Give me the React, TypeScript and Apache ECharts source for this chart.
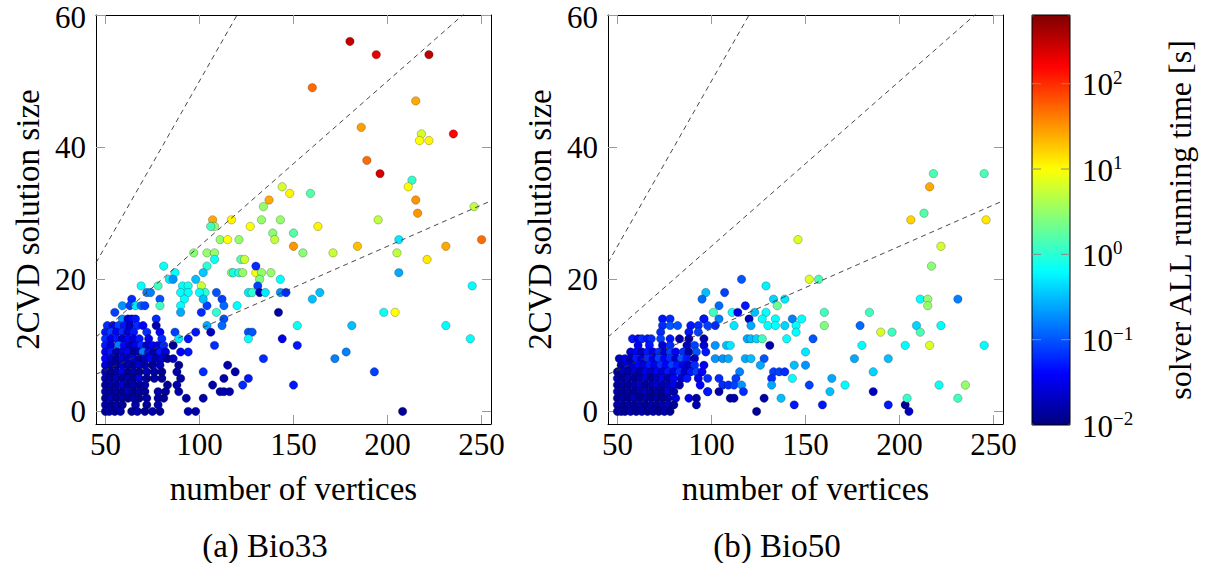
import React, { useEffect, useRef } from "react";
import * as echarts from "echarts";

// ---------- data ----------
const xTicks = [50, 100, 150, 200, 250];
const yTicks = [0, 20, 40, 60];
const xRange = [45, 255];
const yRange = [-1.9, 60];
const colorExponents = [-2, -1, 0, 1, 2]; // colorbar ticks, 10^e seconds
const colorRange = [-2, 2.805]; // log10 of solver time [s]
const ratioLines = [2, 4, 8]; // dashed guides: size = vertices / k
const panelCaptions = ["(a) Bio33", "(b) Bio50"];
const xName = "number of vertices";
const yName = "2CVD solution size";
const colorName = "solver ALL running time [s]";

// [vertices, solution size, log10(time in s)]
const bio33: number[][] = [
  [180,56,2.5],[194,54,2.3],[222,54,2.5],[160,49,1.7],[215,47,1.4],[186,43,1.45],[218,42,0.8],[217,41,1.0],[222,41,1.05],[235,42,2.2],
  [189,38,1.7],[196,36,2.4],[213,35,0.05],[211,34,1.0],[215,32,1.5],[216,30,1.5],[246,31,0.7],[144,34,0.8],[148,33,1.05],[159,33,0.2],
  [137,32,1.4],[134,31,0.5],[195,29,0.7],[163,28,1.05],[150,27,0.2],[150,25,1.5],[155,24,0.45],[171,24,0.75],[184,25,1.3],[206,26,-0.3],
  [205,24,0.7],[221,23,1.1],[231,25,1.4],[250,26,1.7],[206,21,-0.6],[245,19,-0.2],[164,18,-0.5],[160,17,-0.5],[198,15,-0.15],[204,15,1.0],
  [152,13,-0.15],[181,13,-0.5],[231,13,-0.2],[244,11,-0.2],[152,10,-1.3],[172,8,-0.8],[178,9,-0.8],[193,6,-1.1],[150,4,-1.3],[208,0,-1.9],
  [107,29,1.4],[108,28,0.5],[106,28,0.1],[117,29,1.05],[127,28,1.0],[133,29,0.5],[143,29,0.5],[139,27,0.45],[140,26,0.7],[111,26,0.5],
  [115,26,1.0],[121,26,0.5],[97,24,0.45],[104,24,0.5],[108,24,0.5],[108,23,-0.15],[104,22,0.0],[102,21,-0.45],[98,20,-0.5],[122,23,0.2],
  [124,23,0.75],[117,21,0.5],[118,21,-0.1],[121,21,0.0],[123,21,0.5],[130,21,0.95],[133,21,0.5],[138,21,0.5],[130,22,-1.2],[132,20,0.4],
  [143,20,-0.2],[131,19,-1.1],[126,18,-0.3],[128,18,0.0],[132,18,-1.8],[135,18,-0.3],[143,18,-0.7],[146,18,-1.2],[120,16,-0.2],[142,15,-1.8],
  [101,19,0.75],[103,18,0.0],[109,18,-1.0],[112,17,-1.1],[113,16,-0.9],[101,15,-1.2],[104,16,-1.1],[109,15,0.0],[113,14,-1.0],[112,13,-0.9],
  [104,13,-0.6],[98,12,-1.3],[106,12,-1.7],[126,12,-1.0],[128,12,-1.0],[126,11,-0.2],[144,11,-1.5],[134,8,-1.2],[108,10,-1.2],[94,9,-1.3],
  [102,6,-1.2],[123,4,-1.2],[126,5,-1.3],[113,5,-1.8],[115,7,-1.8],[119,6,-1.8],[111,3,-1.8],[113,3,-1.8],[116,3,-1.8],[107,4,-1.8],
  [102,2,-1.8],[98,0,-1.8],[94,0,-1.8],[93,2,-1.8],[89,3,-1.8],
  [81,22,-0.15],[87,21,-0.2],[84,20,-0.3],[86,20,-0.7],[69,19,-0.2],[72,18,-0.8],[74,18,-0.8],[78,19,0.1],[79,17,-1.0],[79,16,0.1],
  [91,19,-0.2],[94,19,-0.1],[90,18,-0.2],[94,18,-0.2],[92,17,-0.2],[90,16,-0.2],[90,15,-0.6],[100,18,-0.2],[102,17,-0.5],[64,17,-1.2],
  [59,16,-0.7],[63,16,-1.1],[66,16,-0.3],[69,16,-0.9],[71,16,-1.1],[55,15,-1.1],
  [59,14,-0.7],[62,14,-1.6],[64,14,-1.4],[66,14,-1.3],[77,14,-1.2],
  [51,13,-1.2],[54,13,-1.4],[57,13,-1.1],[60,13,-1.3],[63,13,-1.7],[67,13,-1.2],[70,13,-1.4],[77,13,-1.8],
  [50,12,-1.3],[53,12,-1.1],[56,12,-1.4],[59,12,-1.2],[62,12,-1.6],[65,12,-1.3],[72,12,-1.2],[79,12,-1.4],[87,12,-1.1],
  [50,11,-1.2],[53,11,-1.5],[56,11,-1.3],[59,11,-1.7],[62,11,-1.4],[65,11,-1.6],[68,11,-1.3],[73,11,-1.5],[80,11,-1.2],[89,11,-0.3],[94,11,-1.3],
  [50,10,-1.3],[53,10,-1.6],[57,10,-0.8],[60,10,-1.4],[63,10,-1.8],[66,10,-1.5],[69,10,-1.2],[72,10,-1.7],[75,10,-1.4],[78,10,-1.6],[81,10,-1.2],[86,10,-1.9],
  [50,9,-1.5],[53,9,-1.3],[56,9,-1.8],[59,9,-1.6],[62,9,-1.4],[65,9,-1.9],[68,9,-1.7],[70,9,-0.8],[73,9,-1.5],[76,9,-1.8],[79,9,-1.3],[82,9,-1.6],[90,9,-1.4],
  [50,8,-1.4],[53,8,-1.7],[56,8,-1.9],[59,8,-1.6],[62,8,-1.8],[65,8,-1.5],[68,8,-1.9],[71,8,-1.7],[74,8,-1.4],[77,8,-1.8],[80,8,-1.6],[83,8,-1.9],[86,8,-1.7],
  [50,7,-1.6],[53,7,-1.8],[56,7,-1.9],[59,7,-1.7],[62,7,-1.8],[65,7,-1.9],[68,7,-1.6],[71,7,-1.8],[75,7,-1.9],[79,7,-1.7],[89,7,-1.9],
  [50,6,-1.7],[53,6,-1.9],[56,6,-1.8],[59,6,-1.5],[62,6,-1.9],[65,6,-1.8],[68,6,-1.9],[72,6,-1.7],[76,6,-1.8],[80,6,-1.9],[88,6,-1.8],
  [50,5,-1.8],[53,5,-1.9],[56,5,-1.7],[59,5,-1.9],[62,5,-1.8],[65,5,-1.9],[68,5,-1.6],[72,5,-1.9],[76,5,-1.8],[80,5,-1.9],[90,5,-1.8],
  [50,4,-1.9],[53,4,-1.8],[56,4,-1.9],[59,4,-1.6],[62,4,-1.9],[65,4,-1.8],[68,4,-1.9],[71,4,-1.8],[83,4,-1.9],[88,4,-1.8],
  [50,3,-1.8],[53,3,-1.9],[56,3,-1.8],[59,3,-1.9],[62,3,-1.7],[65,3,-1.9],[68,3,-1.8],[71,3,-1.9],[78,3,-1.8],[82,3,-1.9],
  [50,2,-1.9],[53,2,-1.7],[56,2,-1.9],[59,2,-1.8],[62,2,-1.9],[65,2,-1.8],[68,2,-1.9],[72,2,-1.8],[78,2,-1.8],[81,2,-1.9],
  [50,1,-1.8],[53,1,-1.9],[56,1,-1.8],[59,1,-1.9],[66,1,-1.8],[72,1,-1.9],[78,1,-1.8],
  [50,0,-1.9],[52,0,-1.8],[55,0,-1.9],[58,0,-1.8],[64,0,-1.9],[67,0,-1.8],[71,0,-1.9],[75,0,-1.8],[79,0,-1.9],
];

const bio50: number[][] = [
  [218,36,0.15],[245,36,0.15],[216,34,1.4],[213,30,0.2],[206,29,1.2],[246,29,1.1],[222,25,0.8],[217,22,0.45],[146,26,0.85],[152,20,0.85],
  [157,20,0.15],[211,17,-0.2],[215,17,0.5],[215,16,0.5],[231,17,-0.8],[160,15,0.1],[184,15,0.1],[160,13,0.4],[179,13,-0.9],[209,13,-0.4],
  [211,12,0.15],[222,13,-0.2],[190,12,0.8],[196,12,0.1],[180,10,-0.2],[203,10,-0.2],[216,10,0.85],[245,10,-0.2],[176,8,-0.6],[194,8,-0.5],
  [186,6,-0.4],[154,11,-1.0],[150,9,-0.3],[150,7,-0.7],[148,14,-0.2],[152,4,-1.1],[164,5,-0.6],[163,3,-0.5],[171,4,-0.2],[186,3,-1.7],
  [159,1,-1.3],[194,1,-1.3],[203,1,-1.9],[205,0,-1.7],[204,2,0.05],[221,4,-0.15],[235,4,0.5],[231,2,0.1],
  [116,20,-1.0],[129,19,-0.25],[97,18,-0.5],[107,18,-1.1],[95,17,-0.9],[133,17,-0.4],[139,17,-0.3],[104,16,-0.9],[118,16,-1.3],[135,16,0.3],
  [101,15,0.1],[111,15,-0.2],[114,15,-1.5],[123,15,-0.5],[129,15,-0.2],[120,14,-1.7],[96,14,-1.3],[104,14,-0.8],[127,14,-0.2],[134,14,-0.2],
  [143,14,-0.8],[102,13,-1.2],[112,13,-0.3],[121,13,-0.6],[130,13,-0.2],[134,13,-0.2],[139,13,-0.4],[145,13,-0.2],[145,12,-0.2],[140,11,-0.2],
  [96,11,-1.8],[96,10,-1.6],[119,11,-0.6],[121,11,-0.5],[124,11,-0.4],[127,11,0.1],[102,10,-0.7],[108,10,-0.5],[110,10,-0.3],[131,10,-1.8],
  [102,8,-0.7],[106,8,-0.7],[109,8,-0.6],[118,8,-0.6],[121,8,-0.5],[128,8,-1.0],[126,7,-0.6],[144,7,-0.5],[96,7,-1.5],[133,6,-1.1],
  [136,6,-1.1],[139,6,-1.2],[115,6,-0.8],[104,5,-1.2],[113,5,-1.1],[143,5,-0.2],[132,5,-1.2],[106,4,-1.2],[109,4,-1.2],[112,4,-1.1],
  [116,4,-0.7],[132,4,-0.6],[98,3,-1.3],[104,3,-1.8],[117,3,-1.2],[110,2,-1.8],[112,2,-1.8],[128,2,-1.8],[137,2,-0.5],[124,0,-1.9],[144,1,-1.3],
  [74,14,-1.3],[78,14,-1.2],[96,14,-1.3],
  [74,13,-1.2],[78,13,-1.0],[82,13,-1.0],[89,13,-1.3],[93,13,-1.2],[98,13,-1.1],
  [73,12,-1.2],[88,12,-1.3],[93,12,-1.1],
  [58,11,-1.3],[61,11,-1.4],[63,11,-1.2],[66,11,-1.3],[68,11,-1.2],[73,11,-1.1],[78,11,-1.3],[83,11,-1.8],[88,11,-1.8],
  [61,10,-1.5],[67,10,-1.3],[74,10,-1.6],[78,10,-1.2],[87,10,-1.7],[91,10,-1.1],
  [57,9,-1.6],[60,9,-1.4],[63,9,-1.7],[66,9,-1.3],[69,9,-1.5],[72,9,-1.2],[75,9,-1.6],[78,9,-1.1],[81,9,-1.4],[85,9,-1.2],[88,9,-1.8],[92,9,-1.0],[97,9,-1.3],
  [51,8,-1.7],[54,8,-1.5],[57,8,-1.8],[60,8,-1.3],[63,8,-1.6],[66,8,-1.2],[69,8,-1.5],[72,8,-1.1],[75,8,-1.4],[78,8,-1.2],[81,8,-1.6],[84,8,-1.0],[87,8,-1.3],[91,8,-1.7],
  [52,7,-1.8],[55,7,-1.6],[58,7,-1.7],[61,7,-1.4],[64,7,-1.6],[67,7,-1.3],[70,7,-1.5],[73,7,-1.2],[76,7,-1.4],[79,7,-1.1],[82,7,-1.3],[85,7,-1.5],[88,7,-1.7],[91,7,-1.2],
  [50,6,-1.9],[53,6,-1.7],[56,6,-1.8],[59,6,-1.6],[62,6,-1.8],[65,6,-1.5],[68,6,-1.7],[71,6,-1.4],[74,6,-1.6],[77,6,-1.3],[80,6,-1.5],[83,6,-1.2],[86,6,-1.6],[89,6,-1.3],[92,6,-1.1],[95,6,-1.4],
  [50,5,-1.8],[53,5,-1.9],[56,5,-1.7],[59,5,-1.9],[62,5,-1.8],[65,5,-1.6],[68,5,-1.9],[71,5,-1.7],[74,5,-1.5],[77,5,-1.8],[80,5,-1.4],[84,5,-1.6],[87,5,-1.3],[93,5,-1.5],[98,5,-1.2],
  [50,4,-1.9],[53,4,-1.8],[56,4,-1.9],[59,4,-1.8],[62,4,-1.7],[65,4,-1.9],[68,4,-1.8],[71,4,-1.6],[74,4,-1.8],[77,4,-1.7],[80,4,-1.5],[83,4,-1.8],[94,4,-1.4],
  [50,3,-1.8],[53,3,-1.9],[56,3,-1.8],[59,3,-1.9],[62,3,-1.8],[65,3,-1.7],[68,3,-1.9],[71,3,-1.8],[74,3,-1.9],[77,3,-1.6],[80,3,-1.8],[98,3,-1.3],
  [50,2,-1.9],[53,2,-1.8],[56,2,-1.9],[59,2,-1.7],[62,2,-1.9],[65,2,-1.8],[68,2,-1.9],[71,2,-1.8],[74,2,-1.9],[77,2,-1.8],[81,2,-1.6],[88,2,-1.5],[92,2,-1.8],
  [50,1,-1.8],[53,1,-1.9],[56,1,-1.8],[59,1,-1.9],[62,1,-1.8],[65,1,-1.9],[68,1,-1.8],[71,1,-1.9],[74,1,-1.8],[77,1,-1.7],[80,1,-1.9],[92,1,-1.8],
  [50,0,-1.9],[52,0,-1.8],[54,0,-1.9],[57,0,-1.8],[60,0,-1.9],[63,0,-1.8],[66,0,-1.9],[69,0,-1.8],[72,0,-1.9],[75,0,-1.8],[78,0,-1.9],
];

const panels = [bio33, bio50];

// ---------- style ----------
const FONT = "Liberation Serif";
const JET = ["#00007f", "#0000ff", "#007fff", "#00ffff", "#7fff7f", "#ffff00", "#ff7f00", "#ff0000", "#7f0000"];
const GRID_LEFTS = [96, 608];
const GRID_TOP = 15;
const GRID_W = 395;
const GRID_H = 409;
const CB = { x: 1032, y: 15, w: 38, h: 410 };
const CAPTION_X = [265, 777];

export default function App() {
  const ref = useRef<HTMLDivElement>(null);

  useEffect(() => {
    if (!ref.current) return;
    const chart = echarts.init(ref.current, null, { renderer: "svg" });

    const axisLine = { show: true, onZero: false, lineStyle: { color: "#000", width: 1 } };
    const tickStyle = { show: true, inside: true, length: 9, lineStyle: { color: "#9a9a9a", width: 1 } };
    const labelFont = { fontFamily: FONT, fontSize: 31, color: "#000" };
    const nameFont = { fontFamily: FONT, fontSize: 33, color: "#000" };
    const topTick = yTicks[yTicks.length - 1];

    const grid: any[] = [];
    const xAxis: any[] = [];
    const yAxis: any[] = [];
    const series: any[] = [];

    GRID_LEFTS.forEach((left, i) => {
      grid.push({ left, top: GRID_TOP, width: GRID_W, height: GRID_H, containLabel: false, outerBoundsMode: "none" });
      xAxis.push({
        type: "value", gridIndex: i, position: "bottom", min: xRange[0], max: xRange[1],
        axisLine, axisTick: { ...tickStyle, customValues: xTicks },
        axisLabel: { ...labelFont, customValues: xTicks, margin: 8, lineHeight: 24 },
        splitLine: { show: false },
        name: xName, nameLocation: "middle", nameGap: 48, nameTextStyle: { ...nameFont },
      });
      xAxis.push({
        type: "value", gridIndex: i, position: "top", min: xRange[0], max: xRange[1],
        axisLine, axisTick: { ...tickStyle, customValues: xTicks },
        axisLabel: { show: false }, splitLine: { show: false },
      });
      yAxis.push({
        type: "value", gridIndex: i, position: "left", min: yRange[0], max: yRange[1],
        axisLine, axisTick: { ...tickStyle, customValues: yTicks },
        axisLabel: {
          ...labelFont, customValues: yTicks, margin: 10, lineHeight: 22,
          formatter: (v: number) => (v === topTick ? `{t|${v}}` : `${v}`),
          rich: { t: { fontFamily: FONT, fontSize: 31, color: "#000", lineHeight: 22, padding: [5, 0, 0, 0] } },
        },
        splitLine: { show: false },
        name: yName, nameLocation: "middle", nameGap: 52, nameRotate: 90, nameTextStyle: { ...nameFont },
      });
      yAxis.push({
        type: "value", gridIndex: i, position: "right", min: yRange[0], max: yRange[1],
        axisLine, axisTick: { ...tickStyle, customValues: yTicks },
        axisLabel: { show: false }, splitLine: { show: false },
      });
    });

    panels.forEach((pts, i) => {
      series.push({
        type: "scatter", xAxisIndex: 2 * i, yAxisIndex: 2 * i,
        data: pts.map((p) => [p[0], p[1], p[2]]),
        symbol: "circle", symbolSize: 8.4,
        itemStyle: { borderColor: "rgba(0,0,0,0.3)", borderWidth: 0.8, opacity: 1 },
        z: 2, silent: true,
      });
    });

    panels.forEach((_, i) => {
      ratioLines.forEach((k) => {
        series.push({
          type: "line", xAxisIndex: 2 * i, yAxisIndex: 2 * i,
          data: [[xRange[0], xRange[0] / k], [xRange[1], xRange[1] / k]],
          symbol: "none", clip: true, silent: true, z: 5,
          lineStyle: { color: "#333", width: 0.9, type: [5, 4] },
        });
      });
    });

    const span = colorRange[1] - colorRange[0];
    const graphic: any[] = [
      { type: "rect", shape: { x: CB.x, y: CB.y, width: CB.w, height: CB.h }, style: { fill: "none", stroke: "#000", lineWidth: 1 }, z: 100 },
    ];
    colorExponents.forEach((e) => {
      const y = CB.y + CB.h * (1 - (e - colorRange[0]) / span);
      if (e !== colorExponents[0]) {
        graphic.push({ type: "line", shape: { x1: CB.x, y1: y, x2: CB.x + 9, y2: y }, style: { stroke: "#8a8a8a", lineWidth: 1 }, z: 100 });
        graphic.push({ type: "line", shape: { x1: CB.x + CB.w - 9, y1: y, x2: CB.x + CB.w, y2: y }, style: { stroke: "#8a8a8a", lineWidth: 1 }, z: 100 });
      }
      const exp = e < 0 ? "\u2212" + Math.abs(e) : String(e);
      graphic.push({
        type: "text", x: 1082, y: y + 1, z: 100,
        style: {
          text: `{b|10}{s|${exp}}`,
          verticalAlign: "middle", align: "left",
          rich: {
            b: { fontFamily: FONT, fontSize: 31, fill: "#000", lineHeight: 34 },
            s: { fontFamily: FONT, fontSize: 19, fill: "#000", verticalAlign: "top" },
          },
        },
      });
    });
    graphic.push({
      type: "text", x: 1180, y: 220, rotation: Math.PI / 2, z: 100,
      style: { text: colorName, fontFamily: FONT, fontSize: 32, fill: "#000", align: "center", verticalAlign: "middle" },
    });
    panelCaptions.forEach((c, i) => {
      graphic.push({
        type: "text", x: CAPTION_X[i], y: 546, z: 100,
        style: { text: c, fontFamily: FONT, fontSize: 33, fill: "#000", align: "center", verticalAlign: "middle" },
      });
    });

    chart.setOption({
      animation: false,
      backgroundColor: "#fff",
      grid, xAxis, yAxis, series, graphic,
      visualMap: {
        type: "continuous", min: colorRange[0], max: colorRange[1], dimension: 2,
        seriesIndex: [0, 1], inRange: { color: JET },
        left: CB.x, top: CB.y, itemWidth: CB.w, itemHeight: CB.h,
        calculable: false, padding: 0, orient: "vertical", showLabel: false, hoverLink: false,
      },
    });

    return () => chart.dispose();
  }, []);

  return <div ref={ref} style={{ position: "absolute", left: 0, top: 0, width: 1216, height: 563 }} />;
}
